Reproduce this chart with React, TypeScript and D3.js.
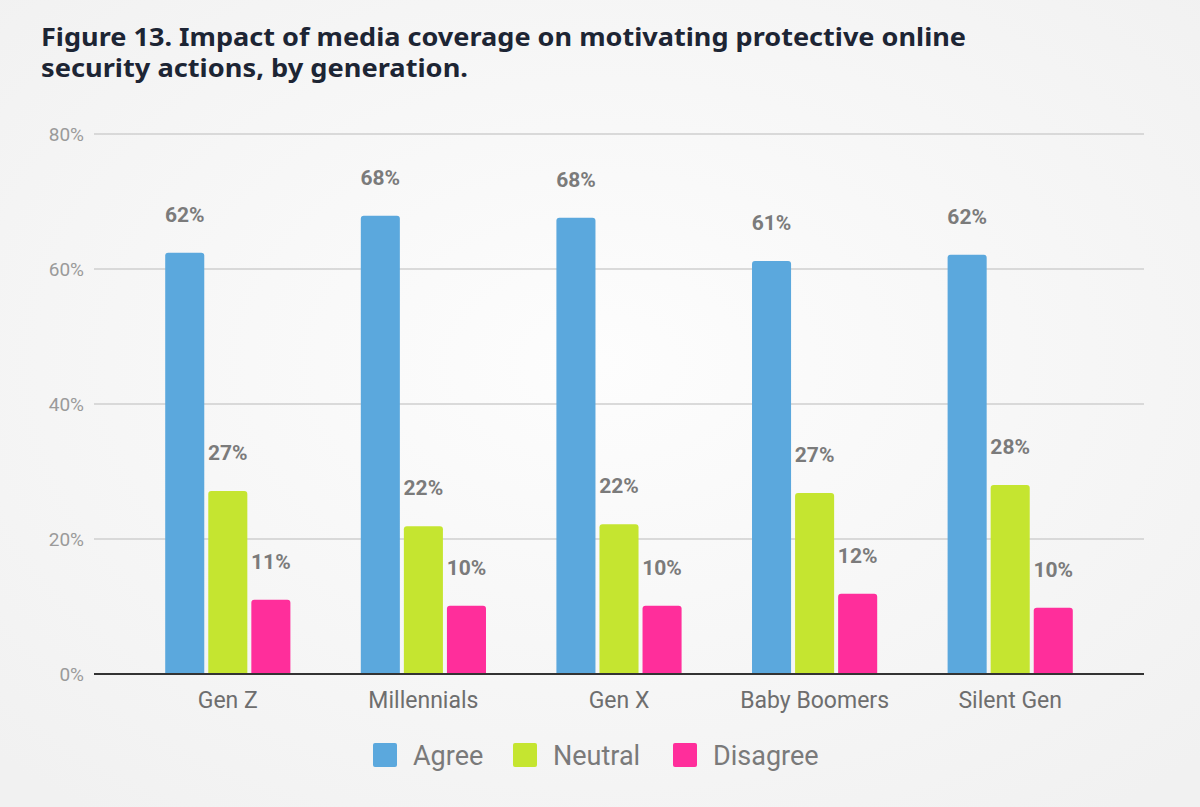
import { useMemo } from 'react';
import * as d3 from 'd3';

const categories = ['Gen Z', 'Millennials', 'Gen X', 'Baby Boomers', 'Silent Gen'];
const seriesNames = ['Agree', 'Neutral', 'Disagree'];
const agreeValues = [62.4, 67.9, 67.6, 61.2, 62.1];
const neutralValues = [27.1, 21.9, 22.2, 26.8, 28.0];
const disagreeValues = [11.0, 10.1, 10.1, 11.9, 9.8];
const labelValues = [
  [62, 68, 68, 61, 62],
  [27, 22, 22, 27, 28],
  [11, 10, 10, 12, 10],
];
const yTicks = [0, 20, 40, 60, 80];
const colors = ['#5ba8dd', '#c5e530', '#ff2e9b'];

const W = 1200;
const H = 807;
const plot = { left: 94, right: 1144, top: 134, bottom: 674 };

// rect with only top corners rounded
function topRounded(x: number, y: number, w: number, h: number, r: number) {
  const rr = Math.min(r, h, w / 2);
  return `M${x},${y + h}V${y + rr}Q${x},${y} ${x + rr},${y}H${x + w - rr}Q${x + w},${y} ${x + w},${y + rr}V${y + h}Z`;
}

export default function App() {
  document.body.style.margin = '0';
  const series = [agreeValues, neutralValues, disagreeValues];

  const { x0, x1, y } = useMemo(() => {
    const x0 = d3.scaleBand<string>().domain(categories).range([130, 1108]).paddingInner(0.36).paddingOuter(0.18);
    const x1 = d3.scaleBand<string>().domain(seriesNames).range([0, x0.bandwidth()]).paddingInner(0.093);
    const y = d3.scaleLinear().domain([0, 80]).range([plot.bottom, plot.top]);
    return { x0, x1, y };
  }, []);

  const legendX = [373, 513, 673];

  return (
    <svg width={W} height={H} style={{ display: 'block' }}>
      <defs>
        <radialGradient id="bg" cx="50%" cy="45%" r="70%">
          <stop offset="0%" stopColor="#fdfdfd" />
          <stop offset="100%" stopColor="#f1f1f1" />
        </radialGradient>
      </defs>
      <rect width={W} height={H} fill="url(#bg)" />

      <g fontFamily="'Noto Sans', 'DejaVu Sans', sans-serif" fontWeight="bold" fontSize={25} fill="#1d2534">
        <text x={41} y={46} textLength={925} lengthAdjust="spacingAndGlyphs">
          Figure 13. Impact of media coverage on motivating protective online
        </text>
        <text x={41} y={77} textLength={427} lengthAdjust="spacingAndGlyphs">
          security actions, by generation.
        </text>
      </g>

      <g fontFamily="Roboto, sans-serif">
        {yTicks.map((t) => (
          <g key={t}>
            {t !== 0 && (
              <line x1={plot.left} x2={plot.right} y1={y(t)} y2={y(t)} stroke="#cfcfcf" strokeWidth={1.5} />
            )}
            <text x={84} y={y(t)} dy="0.36em" textAnchor="end" fontSize={19} fill="#9a9a9a">
              {t}%
            </text>
          </g>
        ))}

        {categories.map((c, ci) => (
          <g key={c} transform={`translate(${x0(c)},0)`}>
            {seriesNames.map((s, si) => {
              const v = series[si][ci];
              const bx = x1(s) as number;
              const bw = x1.bandwidth();
              return (
                <g key={s}>
                  <path d={topRounded(bx, y(v), bw, plot.bottom - y(v), 3)} fill={colors[si]} />
                  <text
                    x={bx + bw / 2}
                    y={y(v) - 31}
                    textAnchor="middle"
                    fontSize={21}
                    fontWeight="bold"
                    fill="#7b7b7b"
                  >
                    {labelValues[si][ci]}%
                  </text>
                </g>
              );
            })}
            <text x={x0.bandwidth() / 2} y={708} textAnchor="middle" fontSize={23} fill="#6e6e6e">
              {c}
            </text>
          </g>
        ))}

        <line x1={plot.left} x2={plot.right} y1={plot.bottom} y2={plot.bottom} stroke="#333" strokeWidth={2} />

        {seriesNames.map((s, si) => (
          <g key={s} transform={`translate(${legendX[si]},743)`}>
            <rect width={24} height={24} rx={2} fill={colors[si]} />
            <text x={40} y={22} fontSize={27} fill="#7a7a7a">
              {s}
            </text>
          </g>
        ))}
      </g>
    </svg>
  );
}
